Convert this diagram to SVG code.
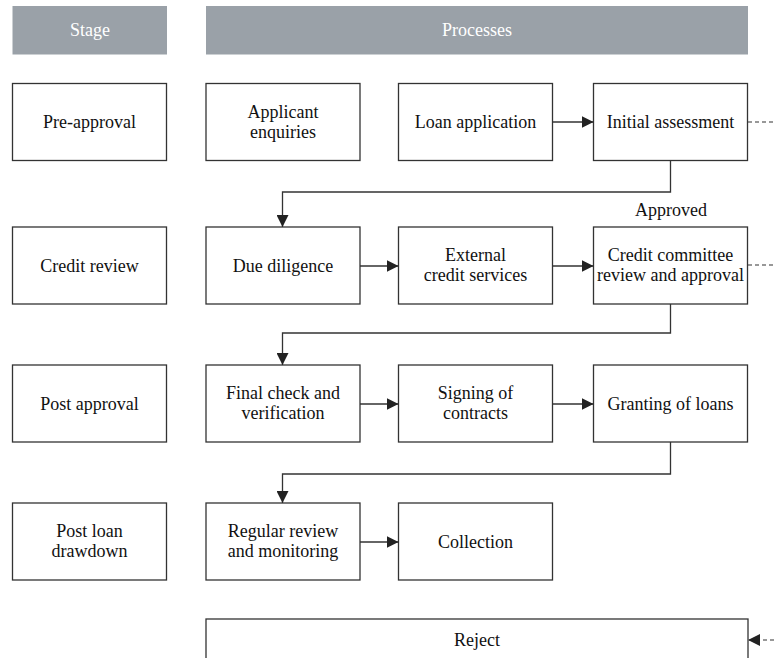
<svg xmlns="http://www.w3.org/2000/svg" width="774" height="658" viewBox="0 0 774 658">
<defs>
<style>
.hdr{fill:#9aa1a8}
.ht{fill:#ffffff;font-family:'Liberation Serif','DejaVu Serif','Times New Roman',serif;font-size:18px;text-anchor:middle}
.box{fill:#ffffff;stroke:#333333;stroke-width:1.3}
.t{fill:#111111;font-family:'Liberation Serif','DejaVu Serif','Times New Roman',serif;font-size:18px;text-anchor:middle}
.ln{fill:none;stroke:#333333;stroke-width:1.3}
.dash{fill:none;stroke:#333333;stroke-width:1.2;stroke-dasharray:4 3}
</style>
<marker id="ah" viewBox="0 0 12 12" refX="12" refY="6" markerWidth="12" markerHeight="12" markerUnits="userSpaceOnUse" orient="auto">
<path d="M0,0 L12,6 L0,12 z" fill="#222222"/>
</marker>
</defs>
<rect width="774" height="658" fill="#ffffff"/>
<g id="hdr-stage"><rect class="hdr" x="12.5" y="6" width="154.5" height="48.5"/><text class="ht" x="90" y="36">Stage</text></g>
<g id="hdr-processes"><rect class="hdr" x="206" y="6" width="542" height="48.5"/><text class="ht" x="477" y="36">Processes</text></g>

<g id="pre-approval"><rect class="box" x="12.5" y="83.5" width="154" height="77"/><text class="t" x="89.5" y="128">Pre-approval</text></g>
<g id="applicant-enquiries"><rect class="box" x="206" y="83.5" width="154" height="77"/><text class="t" x="283" y="118">Applicant</text><text class="t" x="283" y="138">enquiries</text></g>
<g id="loan-application"><rect class="box" x="398.5" y="83.5" width="154" height="77"/><text class="t" x="475.5" y="128">Loan application</text></g>
<g id="initial-assessment"><rect class="box" x="593.5" y="83.5" width="154" height="77"/><text class="t" x="670.5" y="128">Initial assessment</text></g>

<g id="credit-review"><rect class="box" x="12.5" y="227" width="154" height="77"/><text class="t" x="89.5" y="271.5">Credit review</text></g>
<g id="due-diligence"><rect class="box" x="206" y="227" width="154" height="77"/><text class="t" x="283" y="271.5">Due diligence</text></g>
<g id="external-credit"><rect class="box" x="398.5" y="227" width="154" height="77"/><text class="t" x="475.5" y="261">External</text><text class="t" x="475.5" y="281">credit services</text></g>
<g id="credit-committee"><rect class="box" x="593.5" y="227" width="154" height="77"/><text class="t" x="670.5" y="261">Credit committee</text><text class="t" x="670.5" y="281">review and approval</text></g>

<g id="post-approval"><rect class="box" x="12.5" y="365" width="154" height="77"/><text class="t" x="89.5" y="410">Post approval</text></g>
<g id="final-check"><rect class="box" x="206" y="365" width="154" height="77"/><text class="t" x="283" y="399">Final check and</text><text class="t" x="283" y="419">verification</text></g>
<g id="signing"><rect class="box" x="398.5" y="365" width="154" height="77"/><text class="t" x="475.5" y="399">Signing of</text><text class="t" x="475.5" y="419">contracts</text></g>
<g id="granting"><rect class="box" x="593.5" y="365" width="154" height="77"/><text class="t" x="670.5" y="410">Granting of loans</text></g>

<g id="post-loan"><rect class="box" x="12.5" y="503" width="154" height="77"/><text class="t" x="89.5" y="537">Post loan</text><text class="t" x="89.5" y="557">drawdown</text></g>
<g id="regular-review"><rect class="box" x="206" y="503" width="154" height="77"/><text class="t" x="283" y="537">Regular review</text><text class="t" x="283" y="557">and monitoring</text></g>
<g id="collection"><rect class="box" x="398.5" y="503" width="154" height="77"/><text class="t" x="475.5" y="548">Collection</text></g>

<g id="reject"><rect class="box" x="206" y="619" width="542" height="60"/><text class="t" x="477" y="646">Reject</text></g>

<g id="approved-label"><text class="t" x="671" y="216">Approved</text></g>

<g id="connectors">
<line class="ln" x1="552.5" y1="122" x2="593.5" y2="122" marker-end="url(#ah)"/>
<path class="ln" d="M670.5,160.5 V192 H282.5 V227" marker-end="url(#ah)"/>
<line class="ln" x1="360" y1="266" x2="398.5" y2="266" marker-end="url(#ah)"/>
<line class="ln" x1="552.5" y1="266" x2="593.5" y2="266" marker-end="url(#ah)"/>
<path class="ln" d="M670.5,304 V333 H282.5 V365" marker-end="url(#ah)"/>
<line class="ln" x1="360" y1="404" x2="398.5" y2="404" marker-end="url(#ah)"/>
<line class="ln" x1="552.5" y1="404" x2="593.5" y2="404" marker-end="url(#ah)"/>
<path class="ln" d="M670.5,442 V474 H282.5 V503" marker-end="url(#ah)"/>
<line class="ln" x1="360" y1="542" x2="398.5" y2="542" marker-end="url(#ah)"/>
<line class="dash" x1="748" y1="122" x2="774" y2="122"/>
<line class="dash" x1="748" y1="265" x2="774" y2="265"/>
<line class="dash" x1="774" y1="640" x2="748" y2="640" marker-end="url(#ah)"/>
</g>
</svg>
